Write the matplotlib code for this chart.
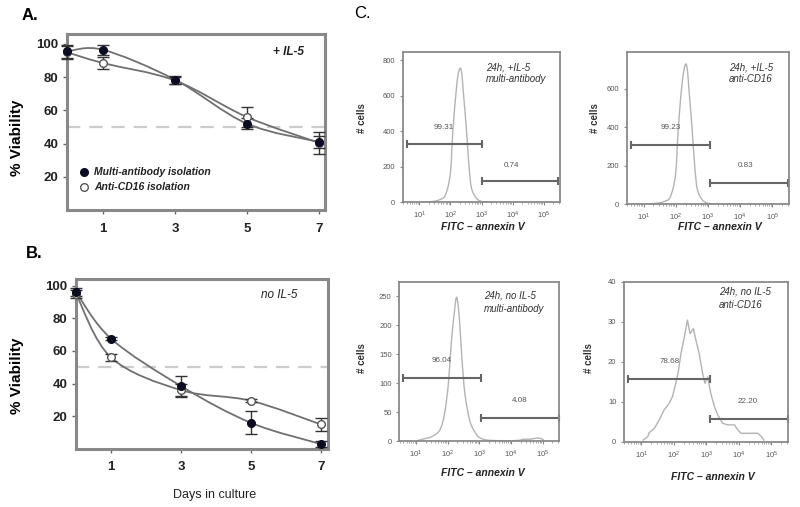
import numpy as np
import matplotlib
matplotlib.use('Agg')
import matplotlib.pyplot as plt
from matplotlib.path import Path
from matplotlib.patches import PathPatch
from matplotlib.lines import Line2D

plt.rcParams['font.family'] = ['Liberation Sans', 'DejaVu Sans']

# ---- data: viability (% of live cells) ----
days = [0, 1, 3, 5, 7]

multi_il5 = [95.5, 96.5, 78.5, 52.0, 41.0]
multi_il5_err = [4.0, 3.0, 2.5, 3.5, 3.5]
cd16_il5 = [95.0, 88.5, 78.0, 56.0, 40.5]
cd16_il5_err = [4.0, 3.5, 2.0, 6.0, 6.5]

multi_no = [96.0, 67.5, 38.5, 16.0, 3.0]
multi_no_err = [2.5, 1.0, 6.0, 7.0, 2.0]
cd16_no = [95.0, 56.0, 36.0, 29.5, 15.0]
cd16_no_err = [2.5, 2.0, 4.0, 1.0, 4.0]

# ---- data: annexin V histograms (log10 FITC, # cells) ----
c1_log = [1.15, 1.4, 1.63, 1.84, 2.0, 2.08, 2.18, 2.25, 2.32, 2.37, 2.42, 2.52, 2.6, 2.68, 2.84, 3.02, 3.2]
c1_cells = [0, 4, 13, 41, 163, 400, 614, 720, 755, 720, 614, 400, 200, 79, 22, 4, 0]

c2_log = [1.1, 1.4, 1.62, 1.83, 1.99, 2.07, 2.17, 2.25, 2.31, 2.36, 2.41, 2.51, 2.59, 2.67, 2.83, 3.0, 3.2]
c2_cells = [0, 4, 12, 38, 155, 380, 590, 695, 729, 695, 590, 380, 190, 75, 20, 4, 0]

c3_log = [1.0, 1.23, 1.49, 1.75, 1.9, 2.02, 2.12, 2.21, 2.28, 2.36, 2.45, 2.54, 2.69, 2.85, 3.0, 3.2, 3.4, 3.8,
          4.2, 4.4, 4.6, 4.8, 4.95, 5.05]
c3_cells = [0, 3.5, 7.5, 19, 48, 100, 175, 223, 248, 215, 140, 82, 36, 16, 6, 2, 1, 0.5,
            1, 3, 3, 5, 4, 0]

c4_log = [1.06, 1.2, 1.24, 1.4, 1.55, 1.7, 1.86, 1.96, 2.06, 2.13, 2.22, 2.32, 2.42, 2.5, 2.6, 2.68, 2.78,
          2.89, 2.96, 3.04, 3.14, 3.25, 3.35, 3.5, 3.66, 3.87, 3.97, 4.07, 4.38, 4.59, 4.7, 4.77]
c4_cells = [0.4, 1.25, 2.2, 3.3, 5.4, 7.9, 9.6, 11.25, 14.6, 17, 22, 26, 30.4, 27, 28.3, 25.4, 22,
            17, 14.6, 16.2, 12, 8.75, 6.7, 4.6, 4.2, 4.2, 2.9, 2.1, 2.1, 2.1, 1.25, 0.4]

gate_low = ['99.31', '99.23', '96.04', '78.68']
gate_high = ['0.74', '0.83', '4.08', '22.20']

W, H = 800, 507
fig = plt.figure(figsize=(8, 5.07), dpi=100)


def box(l, t, r, b):
    return [l / W, 1 - b / H, (r - l) / W, (b - t) / H]


def ftext(x, y, s, **kw):
    fig.text(x / W, 1 - y / H, s, **kw)


def smooth_path(x, y, logx=False):
    # Catmull-Rom curve through the points, drawn as cubic Bezier segments
    pts = np.column_stack([x, y]).astype(float)
    n = len(pts)
    verts = [pts[0]]
    codes = [Path.MOVETO]
    for i in range(n - 1):
        p0 = pts[max(i - 1, 0)]
        p1 = pts[i]
        p2 = pts[i + 1]
        p3 = pts[min(i + 2, n - 1)]
        verts += [p1 + (p2 - p0) / 6, p2 - (p3 - p1) / 6, p2]
        codes += [Path.CURVE4] * 3
    verts = np.array(verts)
    if logx:
        verts[:, 0] = 10 ** verts[:, 0]
    return Path(verts, codes)


def viability_panel(rect, multi, multi_err, cd16, cd16_err, ytop, xright):
    ax = fig.add_axes(rect)
    ax.axhline(50, color='#cccccc', lw=1.6, dashes=(6, 4), zorder=1)
    for y in (multi, cd16):
        ax.add_patch(PathPatch(smooth_path(days, y), fill=False, ec='#707070', lw=1.3, zorder=2))
    for y, e, mfc, mec in ((cd16, cd16_err, 'white', '#555555'), (multi, multi_err, '#0b0b22', '#0b0b22')):
        cont = ax.errorbar(days, y, yerr=e, fmt='o', mfc=mfc, mec=mec, mew=1, ms=5.5,
                           ecolor='#333333', elinewidth=1, capsize=4.5, capthick=1, zorder=3)
        for art in cont.get_children():
            art.set_clip_on(False)
    ax.set_xlim(0, xright)
    ax.set_ylim(0, ytop)
    ax.set_xticks([1, 3, 5, 7])
    ax.set_yticks([20, 40, 60, 80, 100])
    ax.tick_params(direction='out', length=3, width=1, color='#666666', labelcolor='#222222',
                   labelsize=9.5, pad=3)
    ax.tick_params(axis='x', pad=6)
    for lbl in ax.get_xticklabels() + ax.get_yticklabels():
        lbl.set_fontweight('bold')
    for sp in ax.spines.values():
        sp.set_color('#888888')
        sp.set_linewidth(2.2)
    return ax


# ---- A ----
axA = viability_panel(box(67, 34, 325, 210), multi_il5, multi_il5_err, cd16_il5, cd16_il5_err, 106, 7.17)
axA.text(0.92, 0.9, '+ IL-5', transform=axA.transAxes, ha='right', va='center',
         fontsize=8.5, fontweight='bold', style='italic', color='#222222')
handles = [Line2D([], [], ls='none', marker='o', ms=5.5, mfc='#0b0b22', mec='#0b0b22'),
           Line2D([], [], ls='none', marker='o', ms=5.5, mfc='white', mec='#555555')]
leg = axA.legend(handles, ['Multi-antibody isolation', 'Anti-CD16 isolation'], loc='lower left',
                 bbox_to_anchor=(0.02, 0.06), frameon=False, handlelength=0.8, handletextpad=0.6,
                 labelspacing=0.45, borderpad=0.2,
                 prop={'size': 7.5, 'weight': 'bold', 'style': 'italic'})
for t in leg.get_texts():
    t.set_color('#222222')

# ---- B ----
axB = viability_panel(box(76, 279, 328, 449), multi_no, multi_no_err, cd16_no, cd16_no_err, 104, 7.2)
axB.text(0.877, 0.906, 'no IL-5', transform=axB.transAxes, ha='right', va='center',
         fontsize=8.5, style='italic', color='#222222')

ftext(30, 15, 'A.', fontsize=12, fontweight='bold', ha='center', va='center')
ftext(34, 253, 'B.', fontsize=12, fontweight='bold', ha='center', va='center')
ftext(17, 138, '% Viability', fontsize=11, fontweight='bold', rotation=90, ha='center', va='center')
ftext(17, 376, '% Viability', fontsize=11, fontweight='bold', rotation=90, ha='center', va='center')
ftext(215, 495, 'Days in culture', fontsize=9, ha='center', va='center', color='#222222')
ftext(362, 13, 'C.', fontsize=12, ha='center', va='center')

# ---- C: histograms ----
facs = [
    dict(rect=(402.7, 51.7, 560, 202.3), logx=c1_log, cells=c1_cells, ytop=848, yt=[0, 200, 400, 600, 800],
         g1=(0.6, 3.03, 328), g2=(3.03, 5.45, 120), l1=(1.79, 420), l2=(3.95, 210), smooth=True,
         note=(486, 67, '24h, +IL-5', 'multi-antibody'), ylab=(362, 118), xlab=(483, 227)),
    dict(rect=(626.7, 51.7, 789, 204), logx=c2_log, cells=c2_cells, ytop=793, yt=[0, 200, 400, 600],
         g1=(0.6, 3.05, 307), g2=(3.05, 5.5, 111), l1=(1.83, 397), l2=(4.17, 200), smooth=True,
         note=(729, 67, '24h, +IL-5', 'anti-CD16'), ylab=(595, 118), xlab=(720, 227)),
    dict(rect=(399.3, 281.7, 559.3, 441), logx=c3_log, cells=c3_cells, ytop=275, yt=[0, 50, 100, 150, 200, 250],
         g1=(0.58, 3.05, 109), g2=(3.05, 5.5, 39), l1=(1.81, 139), l2=(4.26, 70), smooth=True,
         note=(484, 296, '24h, no IL-5', 'multi-antibody'), ylab=(362, 358), xlab=(483, 473)),
    dict(rect=(624, 281.7, 788.3, 441.7), logx=c4_log, cells=c4_cells, ytop=40, yt=[0, 10, 20, 30, 40],
         g1=(0.6, 3.1, 15.8), g2=(3.1, 5.5, 5.8), l1=(1.88, 20), l2=(4.28, 10), smooth=False,
         note=(719, 292, '24h, no IL-5', 'anti-CD16'), ylab=(589, 358), xlab=(713, 477)),
]

for i, p in enumerate(facs):
    ax = fig.add_axes(box(*p['rect']))
    ax.set_xscale('log')
    if p['smooth']:
        ax.add_patch(PathPatch(smooth_path(p['logx'], p['cells'], logx=True), fill=False,
                               ec='#b3b3b3', lw=1))
    else:
        ax.plot(10 ** np.array(p['logx']), p['cells'], color='#b3b3b3', lw=1)
    ax.set_xlim(10 ** 0.47, 10 ** 5.52)
    ax.set_ylim(0, p['ytop'])
    ax.set_yticks(p['yt'])
    ax.set_xticks([1e1, 1e2, 1e3, 1e4, 1e5])
    for g in (p['g1'], p['g2']):
        ax.plot([10 ** g[0], 10 ** g[1]], [g[2], g[2]], color='#666666', lw=1.5,
                marker='|', ms=6, mew=1.5, clip_on=False)
    ax.text(10 ** p['l1'][0], p['l1'][1], gate_low[i], fontsize=5.8, color='#555555', ha='center', va='center')
    ax.text(10 ** p['l2'][0], p['l2'][1], gate_high[i], fontsize=5.8, color='#555555', ha='center', va='center')
    ax.tick_params(direction='out', length=2.5, width=0.8, color='#888888', labelcolor='#555555',
                   labelsize=5.5, pad=3)
    ax.tick_params(which='minor', direction='out', length=1.5, width=0.6, color='#999999')
    for sp in ax.spines.values():
        sp.set_color('#8a8a8a')
        sp.set_linewidth(1.3)
    nx, ny, t1, t2 = p['note']
    ftext(nx, ny, t1, fontsize=7, style='italic', color='#333333', ha='left', va='center')
    ftext(nx, ny + 12.5, t2, fontsize=7, style='italic', color='#333333', ha='left', va='center')
    ftext(p['ylab'][0], p['ylab'][1], '# cells', fontsize=7, fontweight='bold', rotation=90,
          ha='center', va='center', color='#333333')
    ftext(p['xlab'][0], p['xlab'][1], 'FITC \u2013 annexin V', fontsize=7.5, fontweight='bold',
          style='italic', ha='center', va='center', color='#222222')

fig.savefig('out.png', dpi=100)
